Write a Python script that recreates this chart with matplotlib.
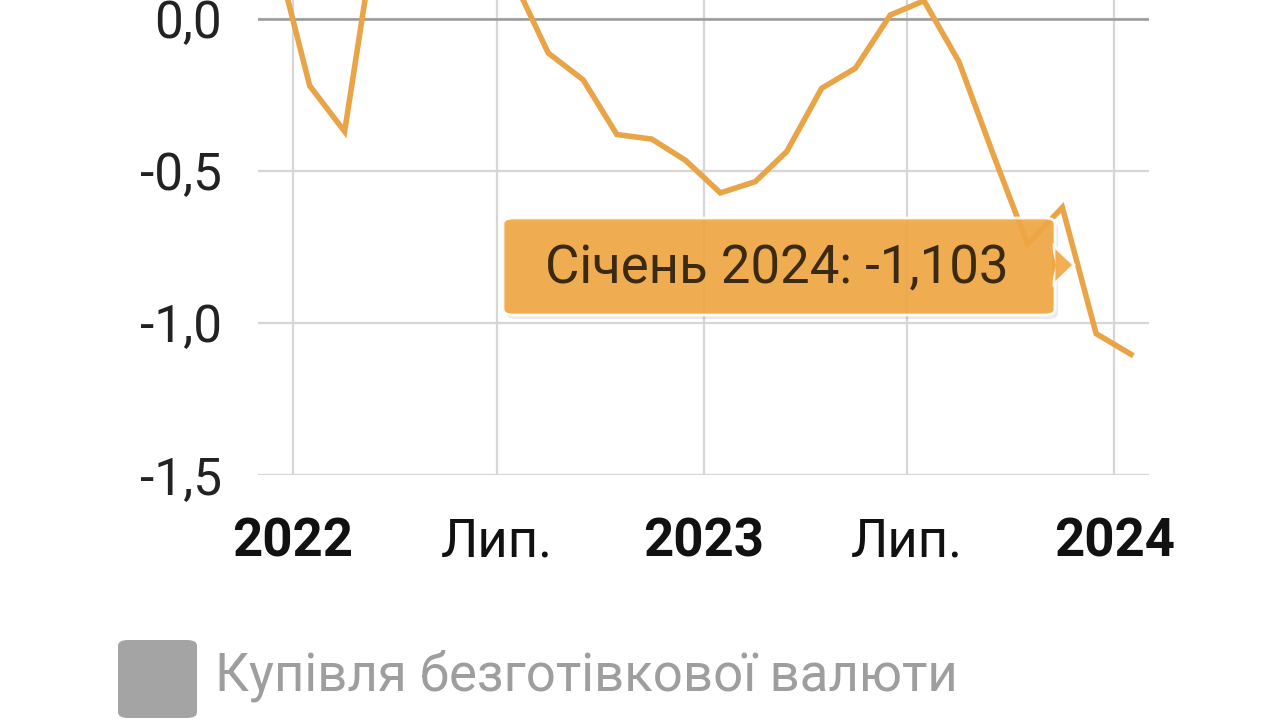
import numpy as np
import pandas as pd
import matplotlib
matplotlib.use("Agg")
from matplotlib import pyplot as plt
from matplotlib.patches import FancyBboxPatch, Polygon
import matplotlib.dates as mdates

plt.rcParams['font.family'] = ['Roboto', 'DejaVu Sans']

# monthly values, Dec 2021 .. Jan 2024 (plotted mid-month)
months = pd.date_range("2021-12-01", "2024-01-01", freq="MS") + pd.Timedelta(days=15)
values = [0.23, -0.22, -0.37, 0.30, 0.45, 0.50, 0.35, 0.13, -0.112, -0.20, -0.38, -0.395,
          -0.465, -0.572, -0.535, -0.436, -0.228, -0.162, 0.013, 0.06, -0.14, -0.45,
          -0.74, -0.62, -1.035, -1.103]

tick_dates = pd.to_datetime(["2022-01-01", "2022-07-01", "2023-01-01", "2023-07-01", "2024-01-01"])
tick_labels = ["2022", "Лип.", "2023", "Лип.", "2024"]
y_ticks = [0.0, -0.5, -1.0, -1.5]
y_labels = ["0,0", "-0,5", "-1,0", "-1,5"]

series_name = "Купівля безготівкової валюти"
tooltip_text = "Січень 2024: -1,103"

line_col = "#E8A446"
W, H = 1280, 720

fig = plt.figure(figsize=(12.8, 7.2), dpi=100)
ax = fig.add_axes([258 / W, 1 - 475 / H, 891 / W, 475 / H])

ax.plot(months, values, color=line_col, lw=4, solid_joinstyle="miter", zorder=3)

ax.set_xlim(pd.Timestamp("2021-12-01"), pd.Timestamp("2024-02-01"))
ax.set_ylim(-1.5, 19 / 304 * 1.0)
ax.set_xticks(tick_dates)
ax.set_xticklabels(tick_labels)
ax.set_yticks(y_ticks)
ax.set_yticklabels(y_labels)
for lab in ax.get_xticklabels():
    lab.set_fontweight("bold" if lab.get_text().isdigit() else "normal")
    lab.set_fontsize(38)
    lab.set_color("#111111")
for lab in ax.get_yticklabels():
    lab.set_fontsize(37)
    lab.set_color("#222222")

ax.tick_params(axis="both", length=0)
ax.tick_params(axis="y", pad=26)
ax.tick_params(axis="x", pad=30)
ax.grid(True, color="#d6d6d6", lw=1.6)
ax.axhline(0, color="#9a9a9a", lw=1.8, zorder=2)
for s in ax.spines.values():
    s.set_visible(False)

# tooltip box
def px(x, y):
    return (x / W, 1 - y / H)

tip_col = "#F0A845"
shadow = FancyBboxPatch(px(506, 319), 552 / W, 97 / H, boxstyle="round,pad=0,rounding_size=0.008",
                        transform=fig.transFigure, fc="#000000", ec="none", alpha=0.08, zorder=9)
fig.patches.append(shadow)
box = FancyBboxPatch(px(503, 315), 552 / W, 97 / H, boxstyle="round,pad=0,rounding_size=0.008",
                     transform=fig.transFigure, fc=tip_col, ec="white", lw=2, alpha=0.93, zorder=10)
fig.patches.append(box)
arrow = Polygon([px(1054, 246), px(1074, 265), px(1054, 284)], closed=True,
                transform=fig.transFigure, fc=tip_col, ec="white", lw=2, alpha=0.93, zorder=10)
fig.patches.append(arrow)
fig.patches.append(Polygon([px(1052, 248), px(1052, 282), px(1056, 265)], closed=True,
                           transform=fig.transFigure, fc=tip_col, ec="none", zorder=11))
fig.text(777 / W, 1 - 268 / H, tooltip_text, ha="center", va="center", fontsize=38,
         color="#3a2a12", zorder=12)

# legend
leg = FancyBboxPatch(px(118, 718), 79 / W, 78 / H, boxstyle="round,pad=0,rounding_size=0.008",
                     transform=fig.transFigure, fc="#a4a4a4", ec="none")
fig.patches.append(leg)
fig.text(215 / W, 1 - 676 / H, series_name, ha="left", va="center", fontsize=38, color="#9e9e9e")

fig.savefig("out.png", dpi=100, facecolor="white")
